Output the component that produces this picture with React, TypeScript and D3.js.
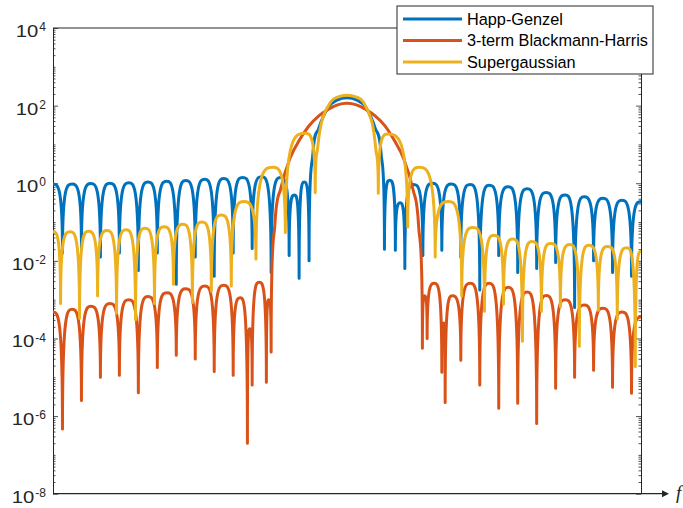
import React, { useEffect, useRef } from 'react'
import * as d3 from 'd3'

// x: frequency in bins (centre = 0), y: log10 of the spectrum magnitude
const happGenzel: [number, number][] = [
  [-31, -0.02], [-30, -1.8], [-29, -0.02], [-28, -1.7], [-27, -0.01], [-26, -1.9], [-25, 0.0], [-24, -1.8],
  [-23, 0.01], [-22, -2.25], [-21, 0.03], [-20, -1.8], [-19, 0.05], [-18, -2.6], [-17, 0.07], [-16, -1.9],
  [-15, 0.1], [-14, -2.4], [-13, 0.12], [-12, -1.8], [-11, 0.15], [-10, -1.68], [-9, 0.17], [-8, -2.3],
  [-7, 0.15], [-6.1, -1.86], [-5.55, -0.3], [-5.05, -2.45], [-4.5, 0.03], [-4.0, -2.0],
  [-3.6, 0.75], [-3, 1.4], [-2, 1.95], [-1, 2.15], [0, 2.2], [1, 2.15], [2, 1.95], [3, 1.4], [3.6, 0.75],
  [3.95, -1.7], [4.5, 0.08], [5.1, -1.73], [5.6, -0.5], [6.1, -2.2], [7, -0.03], [8, -1.86], [9, 0.0],
  [10, -1.73], [11, -0.02], [12, -1.9], [13, -0.03], [14, -2.75], [15, -0.05], [16, -1.86], [17, -0.09],
  [18, -2.3], [19, -0.14], [20, -2.2], [21, -0.24], [22, -2.04], [23, -0.3], [24, -3.2], [25, -0.35],
  [26, -2.0], [27, -0.39], [28, -2.3], [29, -0.44], [30, -2.4], [31, -0.47],
]

const blackmanHarris: [number, number][] = [
  [-31, -3.32], [-30, -6.33], [-29, -3.25], [-28, -5.6], [-27, -3.17], [-26, -5.0], [-25, -3.1], [-24, -4.95],
  [-23, -3.0], [-22, -5.4], [-21, -2.92], [-20, -4.75], [-19, -2.82], [-18, -4.43], [-17, -2.72], [-16, -4.53],
  [-15, -2.65], [-14, -4.85], [-13, -2.63], [-12, -4.95], [-11.25, -2.95], [-10.5, -6.7], [-10.25, -3.75],
  [-10, -5.2], [-9.25, -2.55], [-8.5, -5.13], [-8.25, -3.0], [-8.0, -4.35],
  [-7.6, -1.05], [-7, -0.15], [-6, 0.65], [-5, 1.12], [-4, 1.48], [-3, 1.73], [-2, 1.9], [-1, 2.02], [0, 2.06],
  [1, 2.02], [2, 1.9], [3, 1.73], [4, 1.48], [5, 1.1], [6, 0.62], [7, -0.2], [7.55, -1.1],
  [7.95, -4.25], [8.2, -2.9], [8.45, -4.0], [9.2, -2.58], [10, -4.87], [10.2, -3.6], [10.35, -5.65],
  [11.1, -2.9], [12, -4.56], [13, -2.58], [14, -5.2], [15, -2.58], [16, -5.8], [17, -2.68], [18, -5.67],
  [19, -2.8], [20, -6.19], [21, -2.89], [22, -5.28], [23, -3.0], [24, -5.0], [25, -3.14], [26, -4.82],
  [27, -3.22], [28, -5.26], [29, -3.32], [30, -5.41], [31, -3.45],
]

const superGaussian: [number, number][] = [
  [-31, -1.25], [-30.2, -3.1], [-29.2, -1.25], [-28.2, -3.48], [-27.25, -1.24], [-26.3, -2.9], [-25.3, -1.22],
  [-24.3, -3.35], [-23.3, -1.2], [-22.3, -3.52], [-21.3, -1.16], [-20.3, -3.1], [-19.3, -1.12], [-18.3, -2.6],
  [-17.3, -1.06], [-16.3, -3.07], [-15.3, -1.0], [-14.3, -2.78], [-13.25, -0.82], [-12.2, -2.65],
  [-10.9, -0.47], [-9.6, -1.95], [-7.85, 0.41], [-6.5, -1.27], [-4.4, 1.29], [-3.35, -0.24],
  [-3.1, 0.9], [-2.6, 1.65], [-1.7, 2.1], [-1, 2.22], [0, 2.27], [1, 2.22], [1.7, 2.1], [2.6, 1.6], [3.05, 0.85],
  [3.3, -0.26], [4.3, 1.27], [6.4, -1.13], [7.6, 0.41], [9.3, -1.9], [10.7, -0.47], [12.1, -2.9], [13.3, -1.14],
  [14.5, -3.3], [15.5, -1.34], [16.5, -3.12], [17.5, -1.44], [18.5, -4.07], [19.5, -1.5], [20.5, -3.3],
  [21.5, -1.55], [22.5, -3.18], [23.5, -1.58], [24.5, -4.2], [25.5, -1.6], [26.5, -3.27], [27.5, -1.63],
  [28.5, -3.5], [29.5, -1.66], [30.4, -4.72], [31, -1.75],
]

const seriesNames = ['Happ-Genzel', '3-term Blackmann-Harris', 'Supergaussian']
const seriesColors = ['#0072BD', '#D95319', '#EDB120']
const majorExponents = [-8, -6, -4, -2, 0, 2, 4]

const W = 683
const H = 508
const left = 53
const right = 641
const top = 28
const bottom = 493.7
const axisColor = '#262626'
const font = '"Liberation Sans", Arial, Helvetica, sans-serif'

// curve that draws spectral lobes: vertical at the nulls, flat at the peaks
function lobeCurve(context: any) {
  let pts: [number, number][] = []
  return {
    areaStart() {},
    areaEnd() {},
    lineStart() { pts = [] },
    point(x: number, y: number) { pts.push([+x, +y]) },
    lineEnd() {
      const n = pts.length
      if (!n) return
      const kind = pts.map((p, i) => {
        const a = pts[i - 1], b = pts[i + 1]
        if (!a && !b) return 'mono'
        if (!a) return b[1] > p[1] ? 'max' : 'mono'
        if (!b) return a[1] > p[1] ? 'max' : 'mono'
        if (p[1] > a[1] && p[1] > b[1]) return 'min'
        if (p[1] < a[1] && p[1] < b[1]) return 'max'
        return 'mono'
      })
      const slope = pts.map((p, i) => {
        const a = pts[Math.max(0, i - 1)], b = pts[Math.min(n - 1, i + 1)]
        return (b[1] - a[1]) / (b[0] - a[0])
      })
      context.moveTo(pts[0][0], pts[0][1])
      for (let i = 0; i < n - 1; i++) {
        const [x0, y0] = pts[i]
        const [x1, y1] = pts[i + 1]
        const dx = x1 - x0
        let c1x, c1y, c2x, c2y
        if (kind[i] === 'min') { c1x = x0; c1y = y1 }
        else if (kind[i] === 'max') { c1x = x0 + dx * 0.5; c1y = y0 }
        else { c1x = x0 + dx / 3; c1y = y0 + slope[i] * dx / 3 }
        if (kind[i + 1] === 'min') { c2x = x1; c2y = y0 }
        else if (kind[i + 1] === 'max') { c2x = x1 - dx * 0.5; c2y = y1 }
        else { c2x = x1 - dx / 3; c2y = y1 - slope[i + 1] * dx / 3 }
        context.bezierCurveTo(c1x, c1y, c2x, c2y, x1, y1)
      }
    },
  }
}

export default function App() {
  const axesRef = useRef<SVGGElement>(null)

  const x = d3.scaleLinear().domain([-31, 31]).range([left, right])
  const y = d3.scaleLog().domain([1e-8, 1e4]).range([bottom, top])

  const line = d3.line<[number, number]>()
    .x(d => x(d[0]))
    .y(d => y(Math.pow(10, d[1])))
    .curve(lobeCurve as any)

  const allSeries = [happGenzel, blackmanHarris, superGaussian]

  useEffect(() => {
    const g = d3.select(axesRef.current)
    g.selectAll('*').remove()
    const minor: number[] = []
    for (let e = -8; e < 4; e++) {
      for (let k = 1; k < 10; k++) {
        if (k === 1 && e % 2 === 0) continue
        minor.push(k * Math.pow(10, e))
      }
    }
    const major = majorExponents.map(e => Math.pow(10, e))

    const addAxis = (axis: any, xPos: number, withDomain: boolean) => {
      const a = g.append('g').attr('transform', `translate(${xPos},0)`).call(axis)
      if (!withDomain) a.select('.domain').remove()
      a.selectAll('line').attr('stroke', axisColor).attr('stroke-width', 0.8)
      a.select('.domain').attr('stroke', axisColor).attr('stroke-width', 1)
      a.selectAll('text').remove()
    }
    addAxis(d3.axisLeft(y).tickValues(minor).tickSize(-2.5).tickSizeOuter(0).tickFormat(() => ''), left, false)
    addAxis(d3.axisLeft(y).tickValues(major).tickSize(-5).tickSizeOuter(0).tickFormat(() => ''), left, true)
    addAxis(d3.axisRight(y).tickValues(minor).tickSize(-2.5).tickSizeOuter(0).tickFormat(() => ''), right, false)
    addAxis(d3.axisRight(y).tickValues(major).tickSize(-5).tickSizeOuter(0).tickFormat(() => ''), right, true)
  }, [])

  const legendX = 397
  const legendY = 6
  const rowH = 21.5

  return (
    <svg width={W} height={H} style={{ position: 'absolute', left: 0, top: 0, background: '#fff' }}>
      <defs>
        <clipPath id="plot-area">
          <rect x={left} y={top - 2} width={right - left} height={bottom - top + 2} />
        </clipPath>
      </defs>
      <rect x={0} y={0} width={W} height={H} fill="#fff" />
      <line x1={left} x2={right} y1={top} y2={top} stroke={axisColor} strokeWidth={1} />
      <g ref={axesRef} />
      <line x1={left} x2={663} y1={bottom} y2={bottom} stroke={axisColor} strokeWidth={1.2} />
      <path d={`M662,${bottom - 3.5} L669,${bottom} L662,${bottom + 3.5} Z`} fill={axisColor} />
      <text x={676} y={499} fontFamily='"Liberation Serif", "Times New Roman", serif' fontStyle="italic" fontSize={19} fill="#222">f</text>

      {majorExponents.map(e => {
        const ty = y(Math.pow(10, e))
        const expText = String(e)
        const expW = expText.split('').reduce((s, c) => s + (c === '-' ? 0.333 : 0.556), 0) * 12
        return (
          <g key={e} fontFamily={font} fill={axisColor}>
            <text x={46 - expW - 1} y={ty + 9} textAnchor="end" fontSize={16.5} textLength={22.5} lengthAdjust="spacingAndGlyphs">10</text>
            <text x={46} y={ty + 3.2} textAnchor="end" fontSize={12}>{expText}</text>
          </g>
        )
      })}

      <g clipPath="url(#plot-area)">
        {allSeries.map((s, i) => (
          <path key={seriesNames[i]} d={line(s) || ''} fill="none" stroke={seriesColors[i]} strokeWidth={3} strokeLinejoin="round" />
        ))}
      </g>

      <rect x={legendX} y={legendY} width={256} height={68} fill="#fff" stroke={axisColor} strokeWidth={1} />
      {seriesNames.map((name, i) => {
        const ry = legendY + 13 + i * rowH
        return (
          <g key={name}>
            <line x1={legendX + 6} x2={legendX + 65} y1={ry} y2={ry} stroke={seriesColors[i]} strokeWidth={3} />
            <text x={legendX + 70} y={ry + 5.8} fontFamily={font} fontSize={16.3} fill="#000">{name}</text>
          </g>
        )
      })}
    </svg>
  )
}
